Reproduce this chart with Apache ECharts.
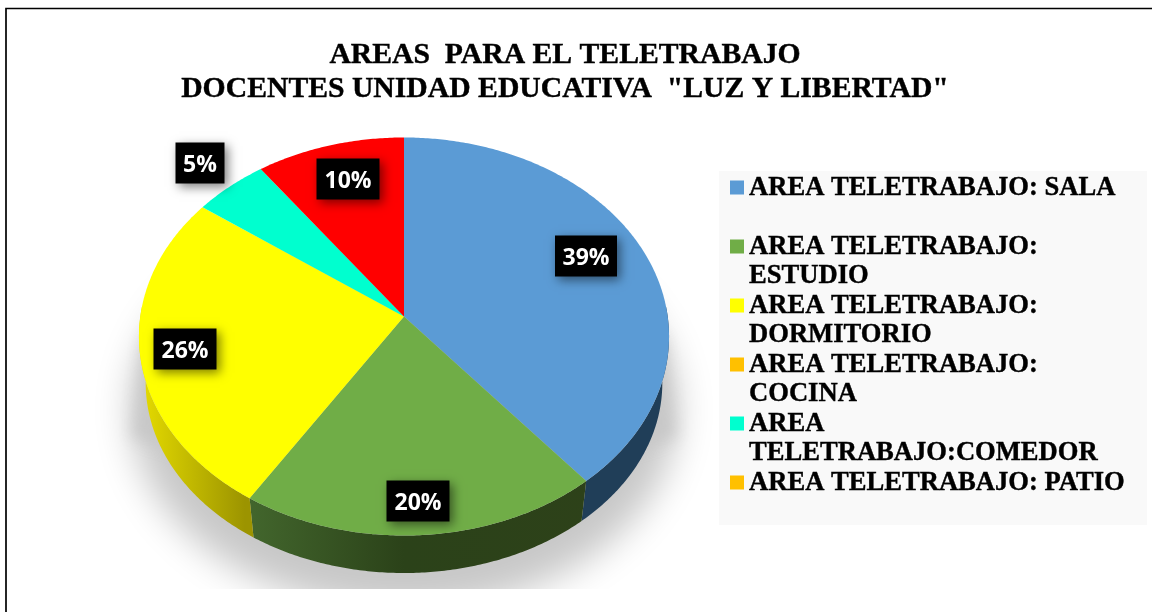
<!DOCTYPE html>
<html><head><meta charset="utf-8">
<style>html,body{margin:0;padding:0;background:#fff}#c{width:1152px;height:612px}</style>
<script src="https://cdn.jsdelivr.net/npm/echarts@6/dist/echarts.min.js"></script>
</head><body><div id="c"></div>
<script>
const titleLines = ['AREAS  PARA EL TELETRABAJO', 'DOCENTES UNIDAD EDUCATIVA  "LUZ Y LIBERTAD"'];
const categories = ['AREA TELETRABAJO: SALA','AREA TELETRABAJO: ESTUDIO','AREA TELETRABAJO: DORMITORIO','AREA TELETRABAJO: COCINA','AREA TELETRABAJO:COMEDOR','AREA TELETRABAJO: PATIO'];
const legendLabels = ['AREA TELETRABAJO: SALA\n ','AREA TELETRABAJO:\nESTUDIO','AREA TELETRABAJO:\nDORMITORIO','AREA TELETRABAJO:\nCOCINA','AREA\nTELETRABAJO:COMEDOR','AREA TELETRABAJO: PATIO\n '];
const values = [39, 20, 26, 0, 5, 10];
const colors = ['#5b9bd5','#70ad47','#ffff00','#ffc000','#00ffcf','#ff0000'];
const legendColors = ['#5b9bd5','#70ad47','#ffff00','#ffc000','#00ffcf','#ffc000'];
const labelCenters = [[586,256],[418,501],[185,349],null,[200,163],[348,179]];
const labelWidths = [62,63,63,0,49,63];

const total = values.reduce((a,b)=>a+b,0);
const P = 0.1005;
const TOP = {cx:404, cy:316.5, a:263.7, b:197};
const BOT = {cx:404, cy:364, a:257, b:188};
const rim = (g,t)=>{const w=1+P*Math.cos(t);return [g.cx+g.a*Math.sin(t)/w, g.cy-g.b*Math.cos(t)/w];};
const arc = (g,t0,t1)=>{const n=Math.max(2,Math.ceil(Math.abs(t1-t0)/0.01));const out=[];for(let i=0;i<=n;i++)out.push(rim(g,t0+(t1-t0)*i/n));return out;};
const grad = (stops)=>new echarts.graphic.LinearGradient(139,0,669,0,stops,true);
const wallFill = [
  '#203e58',
  grad([{offset:0,color:'#4f7a36'},{offset:0.2,color:'#43672d'},{offset:0.5,color:'#2b4219'},{offset:1,color:'#2e4119'}]),
  grad([{offset:0,color:'#e6dc00'},{offset:0.2,color:'#9c9400'},{offset:1,color:'#9c9400'}]),
  '#7f6000','#00806a','#800000'
];
let cum = 0;
const starts = values.map(v=>{const s=cum;cum+=v;return s/total*2*Math.PI;});

function sliceSeries(i){
  return {
    type:'custom', name:categories[i], coordinateSystem:'none', silent:true,
    itemStyle:{color:colors[i]},
    data:[values[i]],
    renderItem(params, api){
      const v = api.value(0);
      if(!v) return {type:'group',children:[]};
      const t0 = starts[i], t1 = t0 + v/total*2*Math.PI;
      const children = [];
      const w0 = Math.max(t0, Math.PI/2-0.05), w1 = Math.min(t1, Math.PI*1.5+0.05);
      if(w1 > w0){
        const pts = arc(TOP,w0,w1).concat(arc(BOT,w1,w0));
        children.push({type:'polygon',z2:1,shape:{points:pts},style:{fill:wallFill[i]}});
      }
      children.push({type:'polygon',z2:2,shape:{points:[[TOP.cx,TOP.cy]].concat(arc(TOP,t0,t1))},style:{fill:colors[i]}});
      const [lx,ly] = labelCenters[i], lw = labelWidths[i];
      children.push({type:'rect',z2:10,shape:{x:lx-lw/2,y:ly-20.5,width:lw,height:41},style:{fill:'#000',shadowBlur:10,shadowColor:'rgba(0,0,0,0.5)',shadowOffsetX:3,shadowOffsetY:3}});
      children.push({type:'text',z2:11,style:{text:v+'%',x:lx,y:ly+2,align:'center',verticalAlign:'middle',fill:'#fff',font:'bold 23px "Open Sans"'}});
      return {type:'group',children};
    }
  };
}
const OFF = 3000;
const shadowSeries = {
  type:'custom', name:'sombra', coordinateSystem:'none', silent:true, data:[0],
  renderItem(){
    const body = arc({cx:404-OFF,cy:390,a:272,b:198},0,2*Math.PI);
    const wedge = [[145,335],[663,335],[675,437],[404,520],[133,437]].map(p=>[p[0]-OFF,p[1]]);
    return {type:'group',children:[
      {type:'polygon',z2:-3,shape:{points:body},style:{fill:'#c8c8c8',shadowBlur:36,shadowColor:'#c8c8c8',shadowOffsetX:OFF}},
      {type:'polygon',z2:-2,shape:{points:wedge},style:{fill:'#c8c8c8',shadowBlur:16,shadowColor:'#c8c8c8',shadowOffsetX:OFF}},
      {type:'rect',z2:-1,shape:{x:90,y:589,width:640,height:40},style:{fill:'#fff'}}
    ]};
  }
};
const chart = echarts.init(document.getElementById('c'),null,{renderer:'canvas'});
chart.setOption({
  animation:false,
  backgroundColor:'#fff',
  title:{text:titleLines.join('\n'),left:560,top:33,textAlign:'center',
    textStyle:{fontFamily:'Liberation Serif',fontWeight:'bold',fontSize:29.7,lineHeight:34,color:'#000',textBorderColor:'#000',textBorderWidth:0.4}},
  legend:{show:true,orient:'vertical',left:719,top:173,padding:[0,17,0,11],itemGap:0,itemWidth:14,itemHeight:44,
    icon:'path://M0 0H14V14H0Z M0 44H14Z',
    data:categories.map((n,i)=>({name:n,itemStyle:{color:legendColors[i]}})),
    formatter:(n)=>legendLabels[categories.indexOf(n)],
    textStyle:{fontFamily:'Liberation Serif',fontWeight:'bold',fontSize:26.6,lineHeight:29.5,color:'#000',textBorderColor:'#000',textBorderWidth:0.4},
    selectedMode:false},
  graphic:[
    {type:'rect',z:-10,silent:true,shape:{x:6,y:8.5,width:1300,height:800},style:{fill:'none',stroke:'#000',lineWidth:1.7}},
    {type:'rect',z:-10,silent:true,shape:{x:719,y:171,width:428,height:354},style:{fill:'#f9f9f9'}}
  ],
  series:[shadowSeries].concat(categories.map((c,i)=>sliceSeries(i)))
});
</script></body></html>
